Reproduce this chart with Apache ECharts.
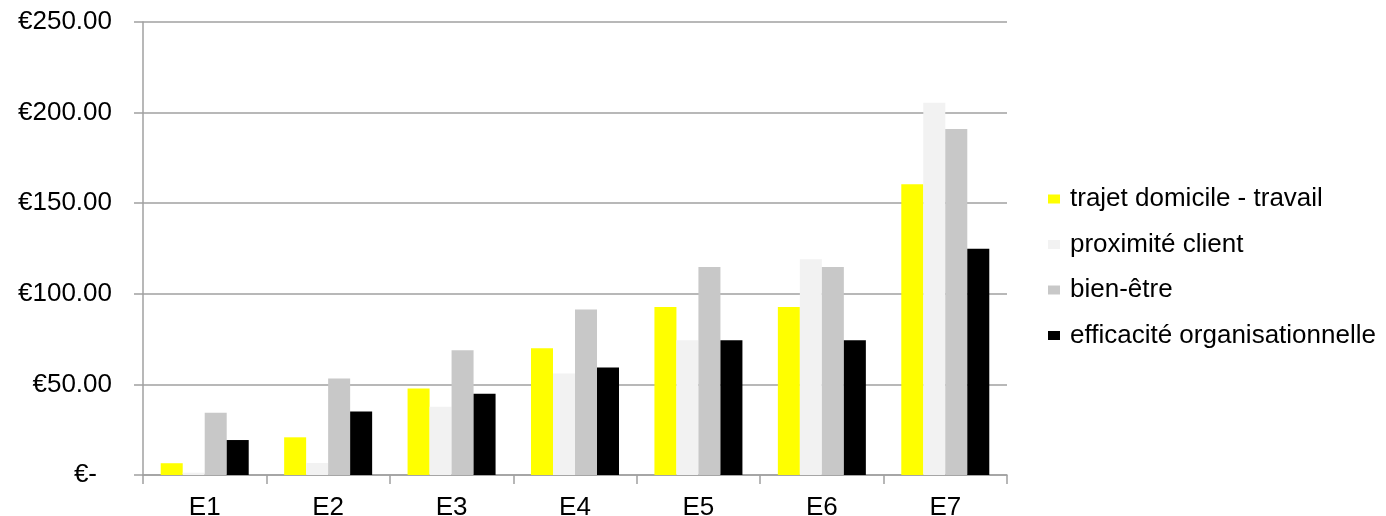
<!DOCTYPE html>
<html><head><meta charset="utf-8">
<script src="https://cdn.jsdelivr.net/npm/echarts@6/dist/echarts.min.js"></script>
<style>html,body{margin:0;padding:0;background:#fff}#c{width:1386px;height:516px}</style>
</head><body><div id="c"></div>
<script>
const categories = ['E1','E2','E3','E4','E5','E6','E7'];
const seriesNames = ['trajet domicile - travail','proximité client','bien-être','efficacité organisationnelle'];
const trajet = [6.5, 20.8, 47.7, 70, 92.7, 92.7, 160.4];
const proximite = [1.3, 6.6, 37.7, 56, 74.4, 119, 205.4];
const bienEtre = [34.3, 53.2, 68.9, 91.4, 114.8, 114.8, 191];
const efficacite = [19.3, 35, 44.9, 59.3, 74.4, 74.4, 124.9];
const yTicks = [0, 50, 100, 150, 200, 250];
const colors = ['#FFFF00','#F2F2F2','#C8C8C8','#000000'];
const values = [trajet, proximite, bienEtre, efficacite];

const font = 'Liberation Sans, Arial, sans-serif';
const fs = 26;
const chart = echarts.init(document.getElementById('c'));
chart.setOption({
  animation: false,
  textStyle: {fontFamily: font},
  grid: {left: 143, right: 379, top: 22, bottom: 41, containLabel: false, outerBoundsMode: 'none'},
  legend: {
    orient: 'vertical', left: 1043, top: 181,
    itemWidth: 12, itemHeight: 9, itemGap: 19.5,
    icon: 'rect',
    textStyle: {fontFamily: font, fontSize: fs, color: '#000', padding: [0,0,0,5]},
    data: seriesNames
  },
  xAxis: {
    type: 'category', data: categories,
    axisLine: {lineStyle: {color: '#a0a0a0', width: 1.5}},
    axisTick: {show: true, length: 9, lineStyle: {color: '#a0a0a0', width: 1.5}},
    axisLabel: {fontSize: fs, color: '#000', margin: 20, fontFamily: font}
  },
  yAxis: {
    type: 'value', min: yTicks[0], max: yTicks[yTicks.length-1], interval: 50,
    axisLine: {show: true, lineStyle: {color: '#a0a0a0', width: 1.5}},
    axisTick: {show: true, length: 9, lineStyle: {color: '#a0a0a0', width: 1.5}},
    splitLine: {lineStyle: {color: '#a0a0a0', width: 1.5}},
    axisLabel: {
      fontSize: fs, color: '#000', margin: 31, fontFamily: font,
      formatter: v => v === 0 ? '{z|€-}' : '€' + v.toFixed(2),
      rich: {z: {fontSize: fs, fontFamily: font, color: '#000', padding: [0, 15, 0, 0]}}
    }
  },
  series: seriesNames.map((n, i) => ({
    name: n, type: 'bar', data: values[i],
    barWidth: 22, barGap: '0%', barCategoryGap: '28.7%',
    itemStyle: {color: colors[i]}
  }))
});
</script></body></html>
